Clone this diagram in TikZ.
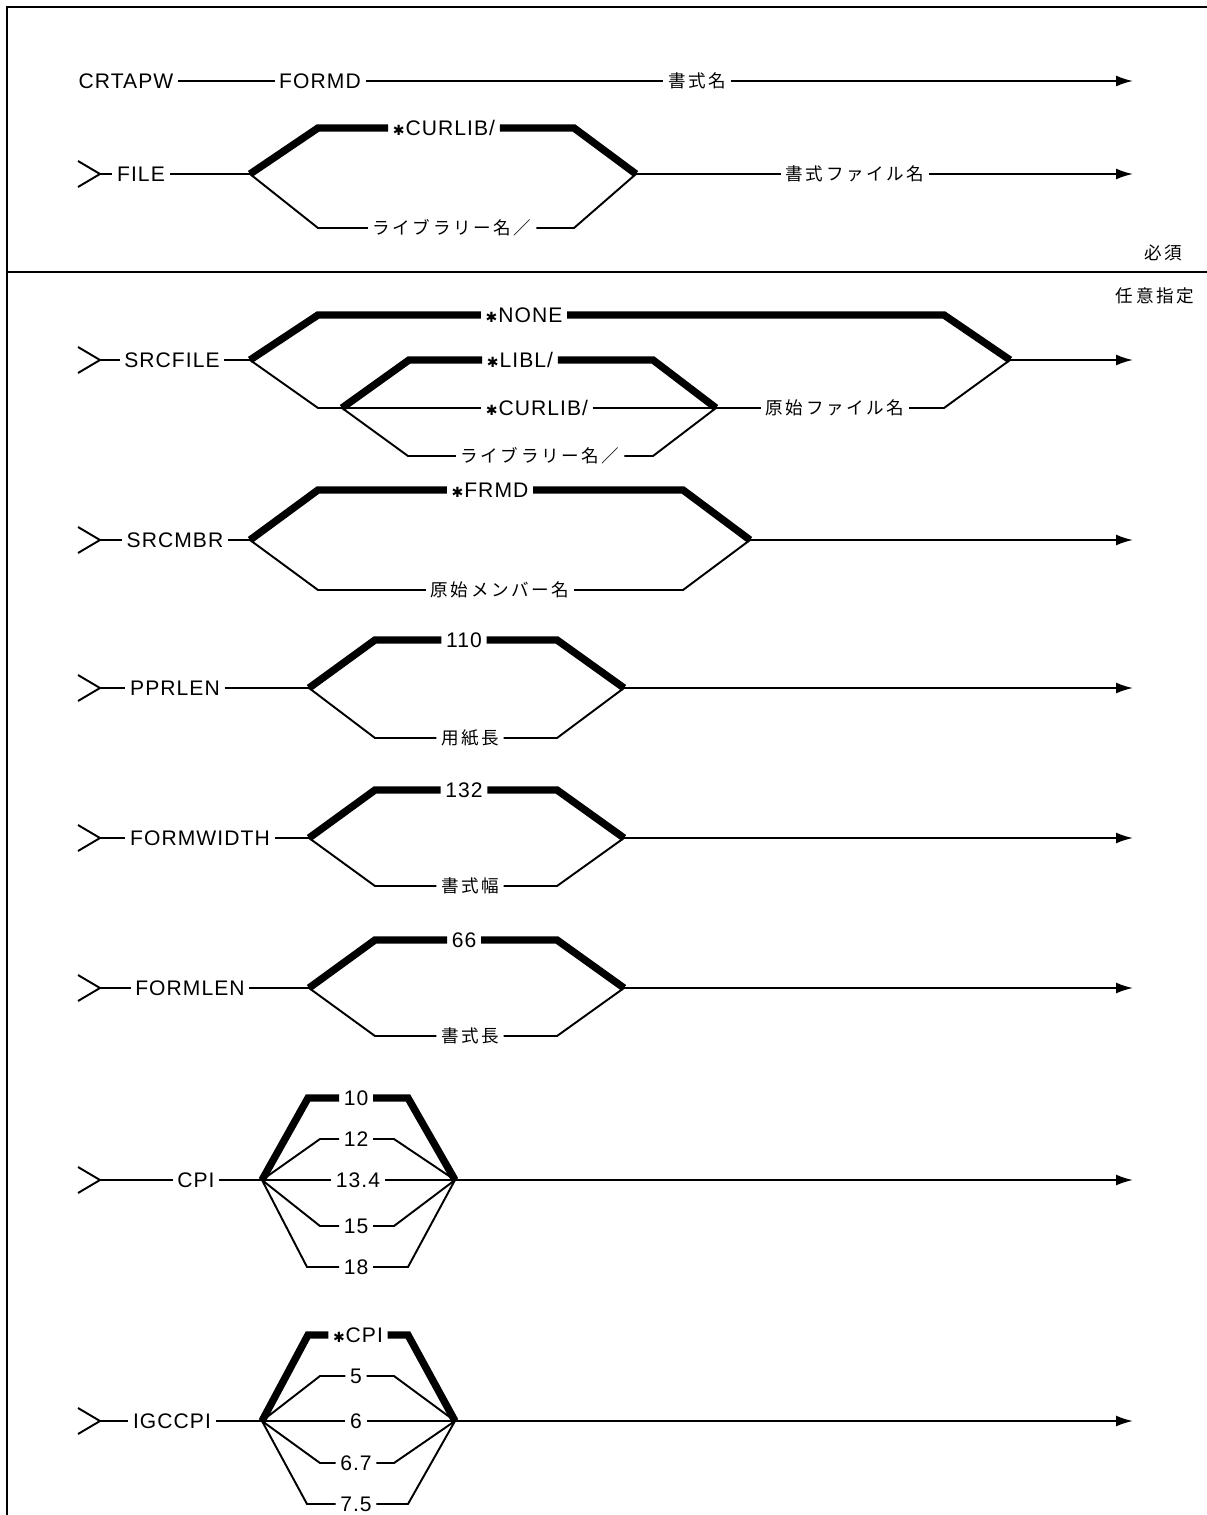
\documentclass[tikz,border=0pt]{standalone}
\usepackage{fontspec}
\setmainfont{Liberation Sans}
\newfontfamily\latf[LetterSpace=5]{Liberation Sans}
\newfontfamily\jpf[LetterSpace=15]{Noto Sans CJK JP}
\newfontfamily\symf{DejaVu Sans}
\usetikzlibrary{arrows.meta}
\newcommand\stc{{\symf\fontsize{8}{9}\selectfont ✱}\kern0.5pt}
\tikzset{
  lbl/.style={font=\latf\fontsize{12}{14}\selectfont, inner xsep=2.5pt, inner ysep=0pt, text height=8.6pt, text depth=0pt},
  jl/.style={font=\jpf\fontsize{10}{12}\selectfont, inner xsep=2.5pt, inner ysep=0pt, text height=8.8pt, text depth=1.2pt},
  thinln/.style={line width=1.1pt},
  heavyln/.style={line width=4.2pt},
  frameln/.style={line width=1.3pt},
  arr/.style={thinln, -{Latex[length=3.4mm,width=2.2mm]}},
}
\newcommand\entrychev[2]{%
  \coordinate (#1) at (100,#2);
  \coordinate (#1u) at (78,{#2-13});
  \coordinate (#1d) at (78,{#2+13});
  \draw[thinln] (#1u) -- (#1) -- (#1d);}
\begin{document}
\begin{tikzpicture}[x=0.02cm,y=-0.02cm]
\useasboundingbox (0,0) rectangle (1207,1515);
\draw[frameln] (7,1515) -- (7,7) -- (1207,7);
\draw[frameln] (7,272) -- (1207,272);

% ---- CRTAPW
\node[lbl] (crt) at (126,81) {CRTAPW};
\node[lbl] (formd) at (320,81) {FORMD};
\node[jl] (fmtn) at (697,81) {書式名};
\coordinate (e1) at (1133,81);
\draw[thinln] (crt) -- (formd);
\draw[thinln] (formd) -- (fmtn);
\draw[arr] (fmtn) -- (e1);

% ---- FILE
\entrychev{c2}{174}
\node[lbl] (file) at (141,174) {FILE};
\coordinate (j2) at (250,174);
\coordinate (k2) at (636,174);
\coordinate (e2) at (1133,174);
\node[lbl] (cur1) at (444,128) {\stc CURLIB/};
\node[jl] (lib1) at (452,228) {ライブラリー名／};
\node[jl] (ffn) at (855,174) {書式ファイル名};
\draw[thinln] (c2) -- (file);
\draw[thinln] (file) -- (j2);
\draw[heavyln] (j2) -- (318,128) -- (cur1);
\draw[heavyln] (cur1) -- (574,128) -- (k2);
\draw[thinln] (j2) -- (318,228) -- (lib1);
\draw[thinln] (lib1) -- (574,228) -- (k2);
\draw[thinln] (k2) -- (ffn);
\draw[arr] (ffn) -- (e2);

\node[jl] (hissu) at (1163,253) {必須};
\node[jl] (nini) at (1155,296) {任意指定};

% ---- SRCFILE
\entrychev{c3}{360}
\node[lbl] (srcfile) at (172,360) {SRCFILE};
\coordinate (j3) at (250,360);
\coordinate (s3) at (342,408);
\coordinate (t3) at (716,408);
\coordinate (k3) at (1010,360);
\coordinate (e3) at (1133,360);
\node[lbl] (none) at (524,315) {\stc NONE};
\node[lbl] (libl) at (520,360) {\stc LIBL/};
\node[lbl] (cur2) at (537,408) {\stc CURLIB/};
\node[jl] (lib2) at (540,456) {ライブラリー名／};
\node[jl] (srcn) at (835,408) {原始ファイル名};
\draw[thinln] (c3) -- (srcfile);
\draw[thinln] (srcfile) -- (j3);
\draw[heavyln] (j3) -- (318,315) -- (none);
\draw[heavyln] (none) -- (944,315) -- (k3);
\draw[thinln] (j3) -- (318,408) -- (s3);
\draw[heavyln] (s3) -- (409,360) -- (libl);
\draw[heavyln] (libl) -- (653,360) -- (t3);
\draw[thinln] (s3) -- (cur2);
\draw[thinln] (cur2) -- (t3);
\draw[thinln] (s3) -- (408,456) -- (lib2);
\draw[thinln] (lib2) -- (653,456) -- (t3);
\draw[thinln] (t3) -- (srcn);
\draw[thinln] (srcn) -- (944,408) -- (k3);
\draw[arr] (k3) -- (e3);

% ---- SRCMBR
\entrychev{c4}{540}
\node[lbl] (srcmbr) at (175,540) {SRCMBR};
\coordinate (j4) at (250,540);
\coordinate (k4) at (750,540);
\coordinate (e4) at (1133,540);
\node[lbl] (frmd) at (490,490) {\stc FRMD};
\node[jl] (mbrn) at (500,590) {原始メンバー名};
\draw[thinln] (c4) -- (srcmbr);
\draw[thinln] (srcmbr) -- (j4);
\draw[heavyln] (j4) -- (318,490) -- (frmd);
\draw[heavyln] (frmd) -- (683,490) -- (k4);
\draw[thinln] (j4) -- (318,590) -- (mbrn);
\draw[thinln] (mbrn) -- (683,590) -- (k4);
\draw[arr] (k4) -- (e4);

% ---- PPRLEN
\entrychev{c5}{688}
\node[lbl] (pprlen) at (175,688) {PPRLEN};
\coordinate (j5) at (309,688);
\coordinate (k5) at (624,688);
\coordinate (e5) at (1133,688);
\node[lbl] (v110) at (464,640) {110};
\node[jl] (ppn) at (470,738) {用紙長};
\draw[thinln] (c5) -- (pprlen);
\draw[thinln] (pprlen) -- (j5);
\draw[heavyln] (j5) -- (375,640) -- (v110);
\draw[heavyln] (v110) -- (557,640) -- (k5);
\draw[thinln] (j5) -- (375,738) -- (ppn);
\draw[thinln] (ppn) -- (557,738) -- (k5);
\draw[arr] (k5) -- (e5);

% ---- FORMWIDTH
\entrychev{c6}{838}
\node[lbl] (fwid) at (200,838) {FORMWIDTH};
\coordinate (j6) at (309,838);
\coordinate (k6) at (624,838);
\coordinate (e6) at (1133,838);
\node[lbl] (v132) at (464,790) {132};
\node[jl] (fwn) at (470,886) {書式幅};
\draw[thinln] (c6) -- (fwid);
\draw[thinln] (fwid) -- (j6);
\draw[heavyln] (j6) -- (375,790) -- (v132);
\draw[heavyln] (v132) -- (557,790) -- (k6);
\draw[thinln] (j6) -- (375,886) -- (fwn);
\draw[thinln] (fwn) -- (557,886) -- (k6);
\draw[arr] (k6) -- (e6);

% ---- FORMLEN
\entrychev{c7}{988}
\node[lbl] (flen) at (190,988) {FORMLEN};
\coordinate (j7) at (309,988);
\coordinate (k7) at (624,988);
\coordinate (e7) at (1133,988);
\node[lbl] (v66) at (464,940) {66};
\node[jl] (fln) at (470,1036) {書式長};
\draw[thinln] (c7) -- (flen);
\draw[thinln] (flen) -- (j7);
\draw[heavyln] (j7) -- (375,940) -- (v66);
\draw[heavyln] (v66) -- (557,940) -- (k7);
\draw[thinln] (j7) -- (375,1036) -- (fln);
\draw[thinln] (fln) -- (557,1036) -- (k7);
\draw[arr] (k7) -- (e7);

% ---- CPI
\entrychev{c8}{1180}
\node[lbl] (cpi) at (196,1180) {CPI};
\coordinate (j8) at (262,1180);
\coordinate (k8) at (455,1180);
\coordinate (e8) at (1133,1180);
\node[lbl] (v10) at (356,1098) {10};
\node[lbl] (v12) at (356,1139) {12};
\node[lbl] (v134) at (358,1180) {13.4};
\node[lbl] (v15) at (356,1226) {15};
\node[lbl] (v18) at (356,1267) {18};
\draw[thinln] (c8) -- (cpi);
\draw[thinln] (cpi) -- (j8);
\draw[heavyln] (j8) -- (308,1098) -- (v10);
\draw[heavyln] (v10) -- (408,1098) -- (k8);
\draw[thinln] (j8) -- (320,1139) -- (v12);
\draw[thinln] (v12) -- (394,1139) -- (k8);
\draw[thinln] (j8) -- (v134);
\draw[thinln] (v134) -- (k8);
\draw[thinln] (j8) -- (320,1226) -- (v15);
\draw[thinln] (v15) -- (394,1226) -- (k8);
\draw[thinln] (j8) -- (307,1267) -- (v18);
\draw[thinln] (v18) -- (408,1267) -- (k8);
\draw[arr] (k8) -- (e8);

% ---- IGCCPI
\entrychev{c9}{1421}
\node[lbl] (igc) at (172,1421) {IGCCPI};
\coordinate (j9) at (262,1421);
\coordinate (k9) at (455,1421);
\coordinate (e9) at (1133,1421);
\node[lbl] (vcpi) at (358,1335) {\stc CPI};
\node[lbl] (v5) at (356,1376) {5};
\node[lbl] (v6) at (356,1421) {6};
\node[lbl] (v67) at (356,1463) {6.7};
\node[lbl] (v75) at (356,1504) {7.5};
\draw[thinln] (c9) -- (igc);
\draw[thinln] (igc) -- (j9);
\draw[heavyln] (j9) -- (308,1335) -- (vcpi);
\draw[heavyln] (vcpi) -- (408,1335) -- (k9);
\draw[thinln] (j9) -- (320,1376) -- (v5);
\draw[thinln] (v5) -- (394,1376) -- (k9);
\draw[thinln] (j9) -- (v6);
\draw[thinln] (v6) -- (k9);
\draw[thinln] (j9) -- (320,1463) -- (v67);
\draw[thinln] (v67) -- (394,1463) -- (k9);
\draw[thinln] (j9) -- (307,1504) -- (v75);
\draw[thinln] (v75) -- (408,1504) -- (k9);
\draw[arr] (k9) -- (e9);
\end{tikzpicture}
\end{document}
